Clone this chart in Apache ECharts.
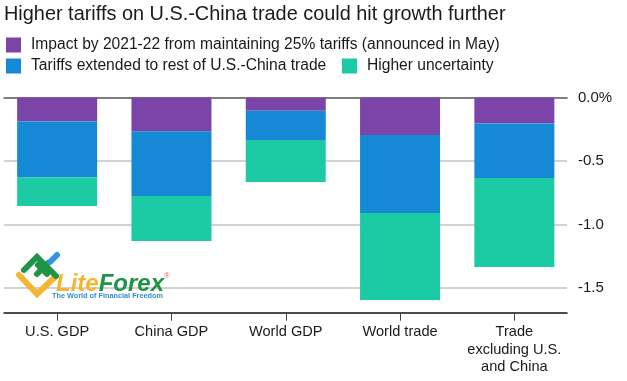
<!DOCTYPE html>
<html>

<head>
	<meta charset="UTF-8">
	<title></title>
	<style>
		html, body { margin: 0; background: #fff; }
		#chart1 { width: 627px; height: 381px; }
	</style>
	<script src="https://cdn.jsdelivr.net/npm/echarts@6/dist/echarts.min.js"></script>
</head>

<body>
	<div id="chart1"></div>
	<script>
		var categories = ['U.S. GDP', 'China GDP', 'World GDP', 'World trade', 'Trade\nexcluding U.S.\nand China'];
		var current = [-0.19, -0.265, -0.105, -0.295, -0.205];
		var extended = [-0.44, -0.51, -0.23, -0.615, -0.43];
		var uncertainty = [-0.225, -0.355, -0.33, -0.685, -0.70];
		var yTicks = [0, -0.5, -1, -1.5];
		var names = [
			'Impact by 2021-22 from maintaining 25% tariffs (announced in May)',
			'Tariffs extended to rest of U.S.-China trade',
			'Higher uncertainty'
		];

		var font = '"Liberation Sans", Arial, sans-serif';
		var yMin = -1.695;

		function bar(name, data, color) {
			return {
				name: name,
				type: 'bar',
				stack: 'all',
				data: data,
				xAxisIndex: 2,
				yAxisIndex: 1,
				barWidth: 80,
				z: 10,
				itemStyle: { color: color },
				silent: true
			};
		}

		function legend(name, left, top) {
			return {
				data: [{ name: name, icon: 'rect' }],
				left: left,
				top: top,
				padding: 0,
				itemWidth: 15,
				itemHeight: 15,
				itemStyle: { borderWidth: 0 },
				textStyle: { fontFamily: font, fontSize: 15.6, color: '#1a1a1a', padding: [0, 0, 0, 5] },
				selectedMode: false
			};
		}

		// logo stroke
		function stroke(points, color) {
			return {
				type: 'polyline',
				z: 20,
				silent: true,
				shape: { points: points },
				style: { stroke: color, lineWidth: 6, fill: null, lineCap: 'round', lineJoin: 'miter' }
			};
		}

		var myChart = echarts.init(document.getElementById('chart1'));
		myChart.setOption({
			animation: false,
			title: {
				text: 'Higher tariffs on U.S.-China trade could hit growth further',
				left: 4,
				top: 5,
				padding: 0,
				textStyle: { fontFamily: font, fontSize: 19.9, fontWeight: 'normal', color: '#1a1a1a' }
			},
			legend: [
				legend(names[0], 6, 37),
				legend(names[1], 6, 58),
				legend(names[2], 342, 58)
			],
			grid: [
				{ left: 4, top: 97.5, width: 563, height: 215.2 },	// grid lines and axis lines
				{ left: -0.5, top: 97.5, width: 572, height: 215.2 }	// bars
			],
			xAxis: [
				{
					gridIndex: 0, type: 'category', position: 'bottom', data: categories,
					axisLine: { onZero: false, lineStyle: { color: '#111', width: 1.5 } },
					axisTick: { show: false }, axisLabel: { show: false }
				},
				{
					gridIndex: 0, type: 'category', position: 'top', data: categories,
					axisLine: { onZero: false, lineStyle: { color: '#555', width: 1.5 } },
					axisTick: { show: false }, axisLabel: { show: false }
				},
				{
					gridIndex: 1, type: 'category', position: 'bottom', data: categories,
					axisLine: { show: false, onZero: false },
					axisTick: { show: true, alignWithLabel: true, length: 8, lineStyle: { color: '#444', width: 1 } },
					axisLabel: { interval: 0, margin: 11, fontFamily: font, fontSize: 14.6, lineHeight: 17.5, color: '#1a1a1a' }
				}
			],
			yAxis: [
				{
					gridIndex: 0, type: 'value', position: 'right', min: yMin, max: 0,
					axisLine: { show: false }, axisTick: { show: false },
					axisLabel: {
						margin: 11, fontFamily: font, fontSize: 15, color: '#1a1a1a',
						customValues: yTicks,
						formatter: function (v) { return v === 0 ? '0.0%' : v.toFixed(1); }
					},
					splitLine: { show: false }
				},
				{
					gridIndex: 1, type: 'value', min: yMin, max: 0, show: false
				}
			],
			series: [
				bar(names[0], current, '#7b44a8'),
				bar(names[1], extended, '#1589d6'),
				bar(names[2], uncertainty, '#1ccba4'),
				{
					// grid lines as a mark line on an empty series
					type: 'line', xAxisIndex: 0, yAxisIndex: 0, data: [], silent: true,
					markLine: {
						silent: true, symbol: 'none', label: { show: false },
						lineStyle: { color: '#d2d2d2', width: 2, type: 'solid' },
						data: yTicks.slice(1).map(function (v) { return { yAxis: v }; })
					}
				}
			],
			// watermark logo
			graphic: [
				stroke([[19, 275], [37, 294], [54, 278]], '#f2b632'),
				stroke([[24, 270], [37, 257], [56, 276]], '#1f9447'),
				stroke([[37, 274], [48, 263]], '#1f9447'),
				stroke([[38, 265], [47, 274]], '#1f9447'),
				stroke([[50, 262], [57, 255]], '#2f95dc'),
				{
					type: 'text', z: 20, silent: true, x: 56, y: 272,
					style: {
						text: '{a|Lite}{b|Forex}',
						rich: {
							a: { fontFamily: font, fontSize: 24, fontWeight: 'bold', fontStyle: 'italic', fill: '#f2b632' },
							b: { fontFamily: font, fontSize: 24, fontWeight: 'bold', fontStyle: 'italic', fill: '#1f9447' }
						}
					}
				},
				{
					type: 'text', z: 20, silent: true, x: 164, y: 272,
					style: { text: '®', fontFamily: font, fontSize: 8, fill: '#d9736f' }
				},
				{
					type: 'text', z: 20, silent: true, x: 52, y: 292,
					style: { text: 'The World of Financial Freedom', fontFamily: font, fontSize: 7.3, fontWeight: 'bold', fill: '#2f8fd0' }
				}
			]
		});
	</script>
</body>

</html>
